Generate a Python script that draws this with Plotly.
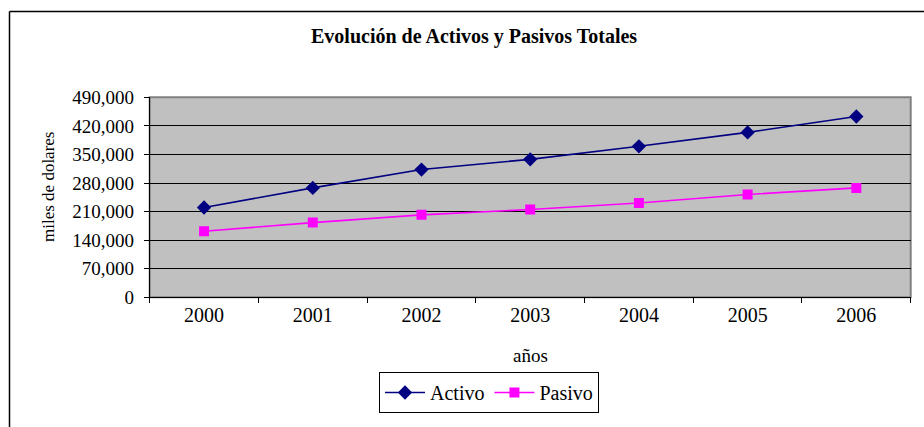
import plotly.graph_objects as go

years = ["2000", "2001", "2002", "2003", "2004", "2005", "2006"]
activo = [220000, 268000, 313000, 338000, 370000, 404000, 443000]
pasivo = [162000, 183000, 202000, 215000, 231000, 252000, 268000]
y_ticks = [0, 70000, 140000, 210000, 280000, 350000, 420000, 490000]
y_tick_labels = ["0", "70,000", "140,000", "210,000", "280,000", "350,000", "420,000", "490,000"]

W, H = 924, 427
px0, px1 = 149.7, 910.7
py_top, py_bot = 97.3, 297.3

def fx(p):
    return p / W

def fy(p):
    return (H - p) / H

FONT = "Liberation Serif, Times New Roman, serif"

fig = go.Figure()
fig.add_trace(go.Scatter(
    x=years, y=activo, name="Activo", mode="lines+markers",
    line=dict(color="#000080", width=1.6),
    marker=dict(symbol="diamond", size=11, color="#000080"),
))
fig.add_trace(go.Scatter(
    x=years, y=pasivo, name="Pasivo", mode="lines+markers",
    line=dict(color="#FF00FF", width=1.6),
    marker=dict(symbol="square", size=10, color="#FF00FF"),
))

fig.update_layout(
    template="none",
    width=W, height=H,
    margin=dict(l=0, r=0, t=0, b=0, autoexpand=False),
    paper_bgcolor="white",
    plot_bgcolor="#C0C0C0",
    font=dict(family=FONT, size=16, color="black"),
    showlegend=True,
    legend=dict(
        orientation="h",
        x=fx(379), y=fy(372), xanchor="left", yanchor="top",
        bordercolor="black", borderwidth=1, bgcolor="white",
        font=dict(family=FONT, size=20),
        itemwidth=40,
    ),
    xaxis=dict(
        domain=[fx(px0), fx(px1)],
        type="category",
        range=[-0.5, 6.5],
        showgrid=False,
        tickson="boundaries",
        ticks="outside", ticklen=5, tickcolor="black",
        showline=True, linecolor="black", linewidth=1,
        tickfont=dict(family=FONT, size=20),
        zeroline=False, automargin=False,
    ),
    yaxis=dict(
        domain=[fy(py_bot), fy(py_top)],
        range=[0, 490000],
        tickvals=y_ticks, ticktext=y_tick_labels,
        showgrid=True, gridcolor="black", gridwidth=1,
        ticks="outside", ticklen=5, tickcolor="black",
        showline=True, linecolor="black", linewidth=1,
        tickfont=dict(family=FONT, size=19),
        ticklabelstandoff=6,
        zeroline=False, automargin=False,
    ),
)

# plot area border (gray top/right)
fig.add_shape(type="rect", xref="paper", yref="paper",
              x0=fx(px0), x1=fx(px1), y0=fy(py_bot), y1=fy(py_top),
              line=dict(color="#808080", width=2), layer="below")

# chart outer border (top and left visible)
fig.add_shape(type="line", xref="paper", yref="paper",
              x0=fx(9.5), x1=fx(W + 5), y0=fy(11.5), y1=fy(11.5),
              line=dict(color="black", width=1.5))
fig.add_shape(type="line", xref="paper", yref="paper",
              x0=fx(9.5), x1=fx(9.5), y0=fy(11.5), y1=fy(H + 5),
              line=dict(color="black", width=1.5))

fig.add_annotation(text="<b>Evolución de Activos y Pasivos Totales</b>",
                   xref="paper", yref="paper", x=fx(474), y=fy(37),
                   showarrow=False, font=dict(family=FONT, size=20),
                   xanchor="center", yanchor="middle")
fig.add_annotation(text="años", xref="paper", yref="paper",
                   x=fx(530), y=fy(355), showarrow=False,
                   font=dict(family=FONT, size=19),
                   xanchor="center", yanchor="middle")
fig.add_annotation(text="miles de dolares", xref="paper", yref="paper",
                   x=fx(48), y=fy(187), showarrow=False, textangle=-90,
                   font=dict(family=FONT, size=17),
                   xanchor="center", yanchor="middle")

fig.write_html(
    "out.html",
    config={"displayModeBar": False},
    post_script="document.body.style.margin='0';document.body.style.overflow='hidden';",
)
